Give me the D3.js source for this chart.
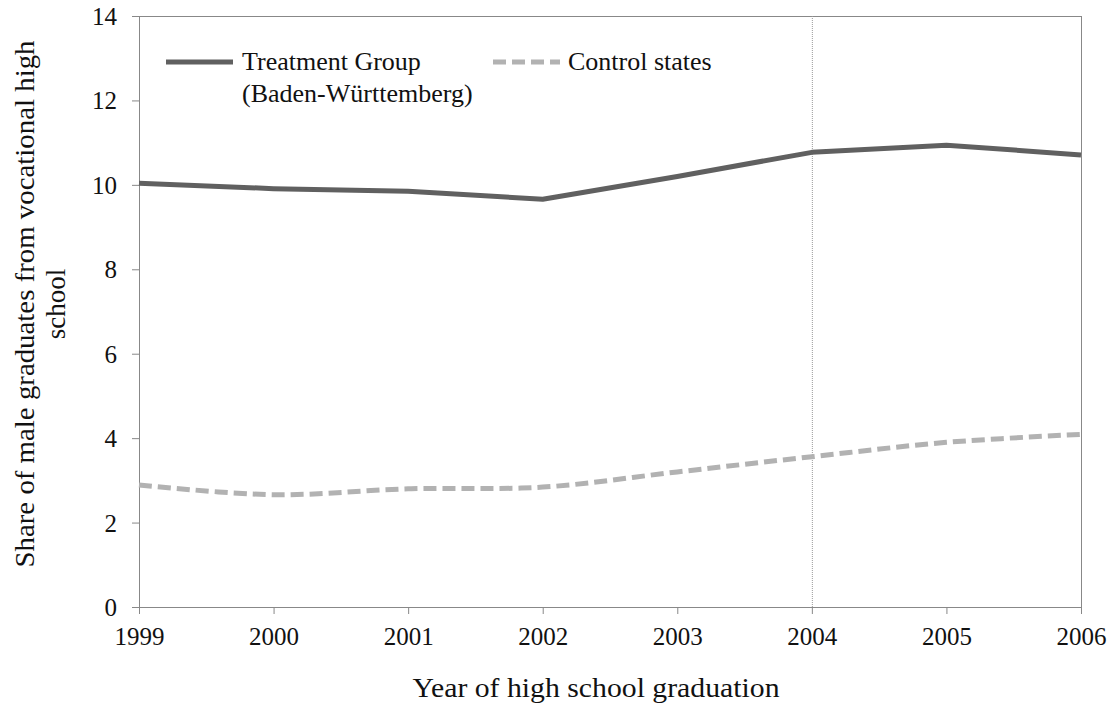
<!DOCTYPE html>
<html><head><meta charset="utf-8">
<script src="https://cdn.jsdelivr.net/npm/d3@7"></script>
<style>body{margin:0;background:#fff}svg{display:block}</style>
</head><body><svg id="c" width="1115" height="710"></svg>
<script>
const years = [1999, 2000, 2001, 2002, 2003, 2004, 2005, 2006];
const treatment = [10.04, 9.91, 9.85, 9.66, 10.2, 10.77, 10.94, 10.71];
const control = [2.89, 2.66, 2.80, 2.84, 3.20, 3.56, 3.90, 4.09];
const yTicks = [0, 2, 4, 6, 8, 10, 12, 14];
const seriesNames = ["Treatment Group", "(Baden-Württemberg)", "Control states"];
const policyYear = 2004;

const FONT = "Liberation Serif, DejaVu Serif, serif";
const svg = d3.select("#c");
const L = 139, R = 1081, T = 16, B = 607;
const x = d3.scalePoint().domain(years).range([L, R]);
const y = d3.scaleLinear().domain([0, 14]).range([B, T]);
const axisColor = "#888";

svg.append("line").attr("x1", L).attr("x2", R).attr("y1", T + 0.5).attr("y2", T + 0.5).attr("stroke", axisColor);
svg.append("line").attr("x1", R + 0.5).attr("x2", R + 0.5).attr("y1", T).attr("y2", B).attr("stroke", axisColor);

svg.append("line").attr("x1", x(policyYear) + 0.5).attr("x2", x(policyYear) + 0.5).attr("y1", T).attr("y2", B)
  .attr("stroke", "#9a9a9a").attr("stroke-width", 1).attr("stroke-dasharray", "1,1");

const yAxis = svg.append("g").attr("transform", `translate(${L},0)`)
  .call(d3.axisLeft(y).tickValues(yTicks).tickSize(7).tickPadding(15));
const xAxis = svg.append("g").attr("transform", `translate(0,${B})`)
  .call(d3.axisBottom(x).tickSize(7).tickPadding(12).tickFormat(d3.format("d")));
[yAxis, xAxis].forEach(a => {
  a.attr("font-family", FONT).attr("font-size", 25);
  a.selectAll("path,line").attr("stroke", axisColor);
  a.selectAll("text").attr("font-family", FONT).attr("font-size", 25).attr("fill", "#111");
});
yAxis.selectAll("text").attr("dy", "0.34em");
xAxis.selectAll("text").attr("dy", "0.75em");

const straight = d3.line().x((d, i) => x(years[i])).y(d => y(d));
const smooth = d3.line().x((d, i) => x(years[i])).y(d => y(d)).curve(d3.curveCatmullRom.alpha(0.5));
svg.append("path").datum(control).attr("d", smooth).attr("fill", "none")
  .attr("stroke", "#b2b2b2").attr("stroke-width", 5).attr("stroke-dasharray", "13,6");
svg.append("path").datum(treatment).attr("d", straight).attr("fill", "none")
  .attr("stroke", "#606060").attr("stroke-width", 5).attr("stroke-linejoin", "round");

function txt(xp, yp, s, size) {
  return svg.append("text").attr("x", xp).attr("y", yp).attr("font-family", FONT).attr("font-size", size).attr("fill", "#111").text(s);
}
svg.append("line").attr("x1", 166).attr("x2", 233).attr("y1", 62).attr("y2", 62).attr("stroke", "#606060").attr("stroke-width", 5);
txt(242, 70, seriesNames[0], 26);
txt(242, 102, seriesNames[1], 26);
svg.append("line").attr("x1", 493).attr("x2", 560).attr("y1", 62).attr("y2", 62).attr("stroke", "#b2b2b2").attr("stroke-width", 5).attr("stroke-dasharray", "13,6");
txt(568, 70, seriesNames[2], 26);

txt(596, 697, "Year of high school graduation", 27).attr("text-anchor", "middle")
  .attr("textLength", 367).attr("lengthAdjust", "spacingAndGlyphs");
const yt = svg.append("text").attr("transform", "translate(0,304) rotate(-90)").attr("text-anchor", "middle")
  .attr("font-family", FONT).attr("font-size", 27).attr("fill", "#111");
yt.append("tspan").attr("x", 0).attr("y", 34).attr("textLength", 527).attr("lengthAdjust", "spacingAndGlyphs")
  .text("Share of male graduates from vocational high");
yt.append("tspan").attr("x", 0).attr("y", 65).text("school");
</script></body></html>
